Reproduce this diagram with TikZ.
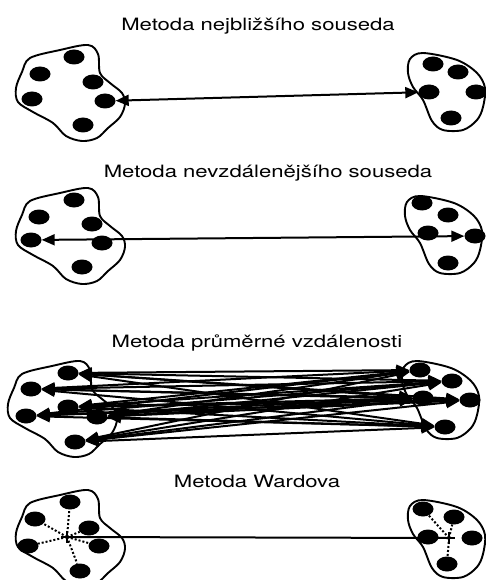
\documentclass[tikz,border=0pt]{standalone}
\usepackage{fontspec}
\setmainfont{TeX Gyre Heros}
\usetikzlibrary{
  arrows.meta,      % for arrow tips
  shapes.geometric} % for ellipse
\tikzset{
  dot/.style={
    shape=ellipse, fill=black, inner sep=0pt,
    minimum width=21pt, minimum height=15pt},
  blob/.style={line width=1.9pt},
  link/.style={
    line width=2pt, {Triangle[length=13pt,width=11pt]}-{Triangle[length=13pt,width=11pt]}},
  spoke/.style={line width=2pt, dotted},
  title/.style={font=\fontsize{17}{20}\selectfont, xscale=1.3, anchor=base},
  left cloud/.pic={
    \draw[blob] plot[smooth cycle, tension=.55] coordinates {
      (30,58) (60,50) (88,45) (98,54) (100,73) (110,83) (122,93) (125,104)
      (120,117) (108,128) (97,138) (82,141) (66,136) (53,123) (33,112)
      (18,102) (16,88) (22,72)};},
  right cloud/.pic={
    \draw[blob] plot[smooth cycle, tension=.55] coordinates {
      (410,59) (423,53) (457,60) (477,73) (485,88) (483,107) (477,120)
      (463,130) (443,130) (432,121) (423,100) (413,87) (408,73)};}
}

\begin{document}
\begin{tikzpicture}[x=1pt, y=-1pt]
\useasboundingbox (0,0) rectangle (486,580);

% nearest neighbour
\node[title] (a-tit) at (258,31) {Metoda nejbližšího souseda};
\pic at (0,0) {left cloud};
\pic at (0,0) {right cloud};
\foreach \n/\x/\y in {1/74/57, 2/40/74, 3/93/82, 4/32/99, 5/105/101, 6/83/125}
  \node[dot] (a-l\n) at (\x,\y) {};
\foreach \n/\x/\y in {1/433/64, 2/458/72, 3/429/92, 4/476/92, 5/451/118}
  \node[dot] (a-r\n) at (\x,\y) {};
\draw[link] (a-l5) -- (a-r3);

% furthest neighbour
\node[title] (b-tit) at (268,178) {Metoda nevzdálenějšího souseda};
\pic at (0,143) {left cloud};
\pic at (-3,143) {right cloud};
\foreach \n/\x/\y in {1/74/200, 2/39/217, 3/92/224, 4/31/240, 5/102/243, 6/82/267}
  \node[dot] (b-l\n) at (\x,\y) {};
\foreach \n/\x/\y in {1/422/203, 2/448/215, 3/428/233, 4/475/236, 5/448/263}
  \node[dot] (b-r\n) at (\x,\y) {};
\draw[link] (b-l4) -- (b-r4);

% average distance
\node[title] (c-tit) at (257,347) {Metoda průměrné vzdálenosti};
\pic at (-8,316) {left cloud};
\pic at (-6,308) {right cloud};
\foreach \n/\x/\y in {1/68/373, 2/31/389, 3/68/407, 4/26/416, 5/97/417, 6/75/442}
  \node[dot] (c-l\n) at (\x,\y) {};
\foreach \n/\x/\y in {1/420/370, 2/452/381, 3/423/398, 4/470/400, 5/445/427}
  \node[dot] (c-r\n) at (\x,\y) {};
\foreach \i in {1,...,6}
  \foreach \j in {1,...,5}
    \draw[link] (c-l\i) -- (c-r\j);

% Ward
\node[title] (d-tit) at (257,487) {Metoda Wardova};
\pic at (0,445) {left cloud};
\pic at (0,447) {right cloud};
\foreach \n/\x/\y in {1/70/502, 2/35/519, 3/89/528, 4/28/546, 5/99/546, 6/80/571}
  \node[dot] (d-l\n) at (\x,\y) {};
\foreach \n/\x/\y in {1/423/509, 2/454/517, 3/428/537, 4/472/538, 5/447/564}
  \node[dot] (d-r\n) at (\x,\y) {};
\coordinate (d-gl) at (67,537);
\coordinate (d-gr) at (449,538);
\foreach \n in {1,...,6}
  \draw[spoke] (d-gl) -- (d-l\n);
\foreach \n in {1,2,5}
  \draw[spoke] (d-gr) -- (d-r\n);
\draw[line width=1.2pt] (d-gl) ++(-6,0) -- ++(12,0) (d-gl) ++(0,-6) -- ++(0,12)
                        (d-gr) ++(-6,0) -- ++(12,0) (d-gr) ++(0,-6) -- ++(0,12);
\draw[line width=2pt] (d-gl) -- (d-gr);
\end{tikzpicture}
\end{document}
